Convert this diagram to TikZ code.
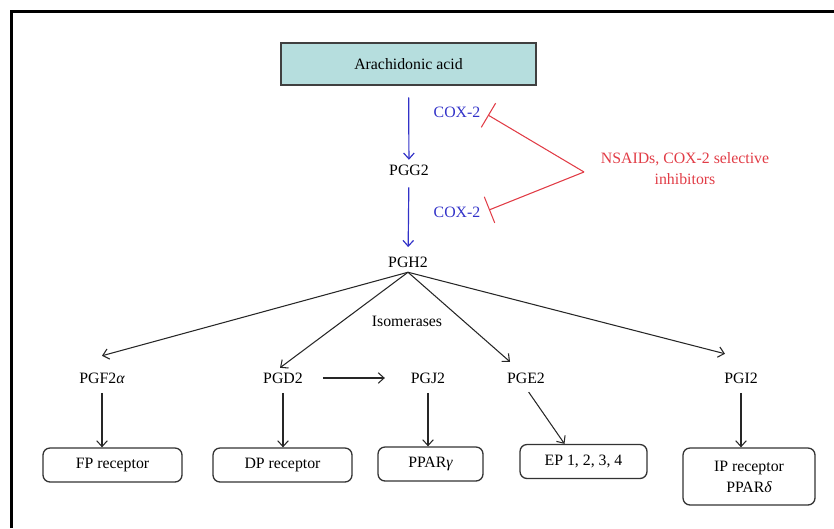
\documentclass[tikz,border=0pt]{standalone}
\usepackage{fontspec}
\setmainfont{Liberation Serif}
\usetikzlibrary{arrows.meta,calc}
\definecolor{acidfill}{RGB}{182,222,222}
\definecolor{coxblue}{RGB}{50,50,200}
\definecolor{nsred}{RGB}{225,60,70}
\begin{document}
\begin{tikzpicture}[x=0.03cm, y=-0.03cm,
  every node/.style={font=\fontsize{13.5}{18}\selectfont, inner sep=4pt},
  recbox/.style={draw=black!80, rounded corners=6pt, line width=1.1pt, minimum height=1.02cm, inner sep=2pt},
  tip/.style={-{Straight Barb[length=5pt,width=9pt]}},
  branch/.style={tip, black!85, line width=0.9pt},
  cox/.style={tip, coxblue, line width=1pt},
  block/.style={-{Bar[width=24pt]}, nsred, line width=0.9pt}]
  \useasboundingbox (0,0) rectangle (834,528);
  \draw[line width=2.4pt] (11.5,528) -- (11.5,11.5) -- (834,11.5);
  \node[draw=black!75, fill=acidfill, line width=1.1pt, minimum width=7.65cm, minimum height=1.26cm] (acid) at (408.5,64) {Arachidonic acid};
  \node (pgg) at (409,170) {PGG2};
  \node (pgh) at (408,262) {PGH2};
  \node[coxblue] (coxa) at (457,112) {COX-2};
  \node[coxblue] (coxb) at (457,212) {COX-2};
  \node[nsred, align=center] (nsaid) at (685,169) {NSAIDs, COX-2 selective\\inhibitors};
  \coordinate (split) at (584,172);
  \coordinate (bara) at (488,115);
  \coordinate (barb) at (489,210);
  \node (iso) at (407,321) {Isomerases};
  \node (pgf) at (102,378) {PGF2{\itshape α}};
  \node (pgd) at (283,378) {PGD2};
  \node (pgj) at (428,378) {PGJ2};
  \node (pge) at (526,378) {PGE2};
  \node (pgi) at (741,378) {PGI2};
  \node[recbox, minimum width=4.17cm] (fp) at (112.5,465) {FP receptor};
  \node[recbox, minimum width=4.17cm] (dp) at (282.5,465) {DP receptor};
  \node[recbox, minimum width=3.15cm] (ppar) at (430.5,464) {PPAR{\itshape γ}};
  \node[recbox, minimum width=3.81cm] (ep) at (583.5,461.5) {EP 1, 2, 3, 4};
  \node[recbox, minimum width=3.96cm, minimum height=1.71cm, align=center] (ip) at (749,476.5) {IP receptor\\PPAR{\itshape δ}};
  \draw[cox, shorten <=10pt] (acid) -- (pgg);
  \draw[cox, shorten <=6pt, shorten >=4pt] (pgg) -- (pgh);
  \draw[block] (split) -- (bara);
  \draw[block] (split) -- (barb);
  \draw[branch] (pgh.south) -- ($(pgf.north)+(0,-12)$);
  \draw[branch] (pgh.south) -- ($(pgd.north)+(-3,0)$);
  \draw[branch] (pgh.south) -- ($(pge.north)+(-16,-6)$);
  \draw[branch] (pgh.south) -- ($(pgi.north)+(-16,-14)$);
  \draw[branch, shorten <=13pt, shorten >=18pt] (pgd.east) -- (pgj.west);
  \foreach \s/\t in {pgf/fp, pgd/dp, pgj/ppar, pgi/ip}
    \draw[branch, shorten <=4pt] (\s.south) -- (\s.south |- \t.north);
  \draw[branch, shorten <=4pt] (pge.south) -- ($(ep.north)+(-19,0)$);
\end{tikzpicture}
\end{document}
